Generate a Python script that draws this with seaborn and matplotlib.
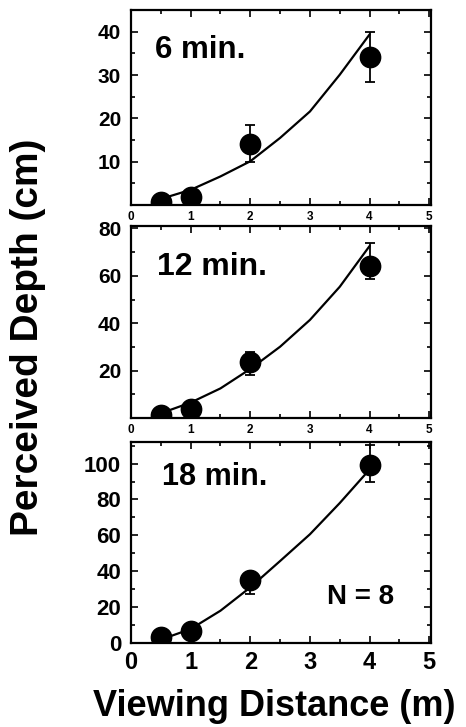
import numpy as np
import pandas as pd
import seaborn as sns
import matplotlib.pyplot as plt
from matplotlib.ticker import MultipleLocator

# viewing distances (m) of the four test points
distance = [0.5, 1, 2, 4]

# mean perceived depth (cm) and error bar ends, one set per exposure time
depth_6 = [0.6, 1.9, 14.2, 34.1]
lo_6 = [0.6, 1.9, 10.0, 28.5]
hi_6 = [0.6, 1.9, 18.5, 40.0]

depth_12 = [1.3, 3.7, 23.8, 64.3]
lo_12 = [1.3, 3.7, 18.1, 58.5]
hi_12 = [1.3, 3.7, 28.0, 74.0]

depth_18 = [3.1, 6.5, 35.2, 99.4]
lo_18 = [3.1, 6.5, 27.5, 89.7]
hi_18 = [3.1, 6.5, 37.0, 110.6]

# fitted curves
curve_x = [0.5, 1, 1.5, 2, 2.5, 3, 3.5, 4]
curve_6 = [1.4, 3.5, 6.6, 10.1, 15.5, 21.6, 30.1, 39.4]
curve_12 = [2.0, 6.5, 12.5, 20.7, 30.1, 41.4, 55.4, 72.6]
curve_18 = [1.9, 7.8, 18.0, 31.0, 45.7, 60.6, 78.0, 96.7]

titles = ['6 min.', '12 min.', '18 min.']
y_limits = [45, 81, 112]
y_majors = [[10, 20, 30, 40], [20, 40, 60, 80], [0, 20, 40, 60, 80, 100]]
y_minor_step = [5, 10, 10]

sns.set_style('ticks')
plt.rcParams['font.family'] = ['Liberation Sans', 'DejaVu Sans']
plt.rcParams['font.weight'] = 'bold'
for key in ['text.color', 'axes.labelcolor', 'xtick.color', 'ytick.color',
            'axes.edgecolor']:
    plt.rcParams[key] = 'black'

fig = plt.figure(figsize=(4.66, 7.27), dpi=100)

# left, bottom, width, height in figure fractions
boxes = [
    [0.281, 0.718, 0.644, 0.268],
    [0.281, 0.425, 0.644, 0.264],
    [0.281, 0.1155, 0.644, 0.2765],
]

panels = [
    (depth_6, lo_6, hi_6, curve_6),
    (depth_12, lo_12, hi_12, curve_12),
    (depth_18, lo_18, hi_18, curve_18),
]
label_pos = [(0.08, 0.754), (0.087, 0.745), (0.105, 0.786)]
label_size = [22.5, 23, 22]

for i, (depth, lo, hi, curve) in enumerate(panels):
    ax = fig.add_axes(boxes[i])
    pts = pd.DataFrame({'distance': distance, 'depth': depth})
    fit = pd.DataFrame({'distance': curve_x, 'depth': curve})

    sns.lineplot(data=fit, x='distance', y='depth', ax=ax, color='black',
                 linewidth=1.6, zorder=2)
    yerr = [np.array(depth) - np.array(lo), np.array(hi) - np.array(depth)]
    ax.errorbar(distance, depth, yerr=yerr, fmt='none', ecolor='black',
                elinewidth=1.3, capsize=3.5, capthick=1.3, zorder=3)
    sns.scatterplot(data=pts, x='distance', y='depth', ax=ax, color='black',
                    s=210, edgecolor='black', zorder=4)

    ax.set_xlim(0, 5.03)
    ax.set_ylim(0, y_limits[i])
    ax.set_xticks([0, 1, 2, 3, 4, 5])
    ax.xaxis.set_minor_locator(MultipleLocator(0.5))
    ax.set_yticks(y_majors[i])
    ax.yaxis.set_minor_locator(MultipleLocator(y_minor_step[i]))
    ax.tick_params(which='both', direction='in', top=True, right=True,
                   width=1.2, color='black')
    ax.tick_params(which='major', length=5)
    ax.tick_params(which='minor', length=3)
    ax.tick_params(axis='y', labelsize=15 if i < 2 else 16, pad=7)
    if i < 2:
        ax.tick_params(axis='x', labelsize=8.5, pad=4)
    else:
        ax.tick_params(axis='x', labelsize=17, pad=6)
    for lab in ax.get_xticklabels() + ax.get_yticklabels():
        lab.set_fontweight('bold')
    for sp in ax.spines.values():
        sp.set_linewidth(1.6)
        sp.set_color('black')
    ax.set_xlabel('')
    ax.set_ylabel('')
    ax.text(label_pos[i][0], label_pos[i][1], titles[i], transform=ax.transAxes,
            fontsize=label_size[i], fontweight='bold', ha='left', va='baseline')
    if i == 2:
        ax.text(0.653, 0.194, 'N = 8', transform=ax.transAxes, fontsize=20,
                fontweight='bold', ha='left', va='baseline')

fig.text(0.060, 1 - 337 / 727, 'Perceived Depth (cm)', rotation=90,
         fontsize=28, fontweight='bold', ha='center', va='center')
fig.text(274 / 466, 1 - 706 / 727, 'Viewing Distance (m)', fontsize=26,
         fontweight='bold', ha='center', va='center')

fig.savefig('out.png', dpi=100, facecolor='white')
